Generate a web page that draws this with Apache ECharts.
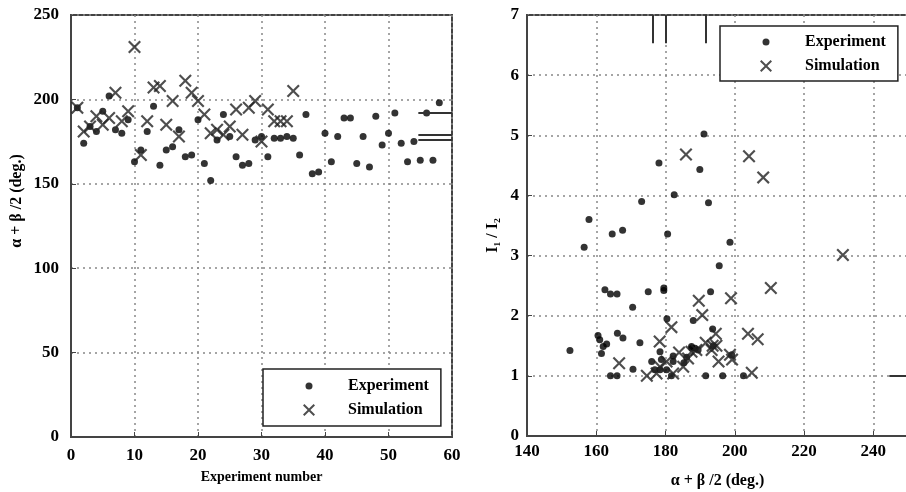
<!DOCTYPE html>
<html>
<head>
<meta charset="utf-8">
<script src="https://cdn.jsdelivr.net/npm/echarts@6.0.0/dist/echarts.min.js"></script>
<style>
  html, body { margin: 0; background: #fff; }
  #chart { width: 906px; height: 492px; }
</style>
</head>
<body>
<div id="chart"></div>
<script>
// left panel: angle per experiment
const expNo = [1,2,3,4,5,6,7,8,9,10,11,12,13,14,15,16,17,18,19,20,21,22,23,24,25,26,27,28,29,30,
  31,32,33,34,35,36,37,38,39,40,41,42,43,44,45,46,47,48,49,50,51,52,53,54,55,56,57,58]
const expAngle = [195,174,184,181,193,202,182,180,188,163,170,181,196,161,170,172,182,166,167,188,
  162,152,176,191,178,166,161,162,176,178,166,177,177,178,177,167,191,156,157,180,
  163,178,189,189,162,178,160,190,173,180,192,174,163,175,164,192,164,198]
const simNo = [1,2,3,4,5,6,7,8,9,10,11,12,13,14,15,16,17,18,19,20,21,22,23,24,25,26,27,28,29,30,31,32,33,34,35]
const simAngle = [195,181,184,190,185,189,204,187,193,231,167,187,207,208,185,199,178,211,204,199,
  191,180,182,179,184,194,179,195,199,175,194,187,187,187,205]

// right panel: current ratio vs angle
const expAngleR = [191.1,178.1,189.9,182.5,173.1,192.4,157.9,164.6,167.6,180.6,156.5,198.6,195.5,162.5,
  164.1,166.0,170.5,175.0,179.5,179.5,193.0,180.4,188.0,193.6,160.5,161.0,162.0,161.5,163.0,166.1,
  167.7,172.6,152.4,170.6,164.1,166.0,178.4,178.8,176.0,176.9,178.4,180.3,182.2,182.2,181.7,185.3,
  186.1,187.5,188.5,189.4,193.8,199.1,191.6,196.5,202.5,187.6]
const expRatio = [5.02,4.54,4.43,4.01,3.90,3.88,3.60,3.36,3.42,3.36,3.14,3.22,2.83,2.43,2.36,2.36,
  2.14,2.40,2.46,2.42,2.40,1.95,1.92,1.78,1.67,1.60,1.49,1.37,1.53,1.71,1.63,1.55,1.42,1.11,1.00,
  1.00,1.40,1.27,1.24,1.10,1.10,1.10,1.33,1.24,1.00,1.22,1.31,1.49,1.46,1.43,1.50,1.35,1.00,1.00,
  1.00,1.46]
const simAngleR = [185.9,204.1,208.2,231.2,210.4,198.9,189.6,190.6,181.7,178.3,194.5,191.6,193.6,203.8,
  206.6,166.6,174.6,177.4,180.3,178.4,182.2,183.9,185.1,186.5,187.5,188.9,195.3,198.6,199.2,204.9,
  194.7,193.3]
const simRatio = [4.68,4.65,4.30,3.01,2.46,2.29,2.25,2.01,1.81,1.57,1.70,1.55,1.50,1.70,1.61,1.21,
  1.00,1.04,1.24,1.15,1.04,1.39,1.15,1.29,1.40,1.43,1.24,1.35,1.27,1.05,1.50,1.43]

// short reference marks drawn at the plot edges
const leftMarkY = [192, 179.3, 176]
const leftMarkX = [54.7, 60]
const topMarkX = [176.4, 180, 191.6]
const topMarkY = [6.53, 7]
const rightMarkY = [1]
const rightMarkX = [244.6, 250]

const zip = (a, b) => a.map((v, i) => [v, b[i]])

const FONT = 'Liberation Serif'
const INK = '#000'
const CROSS = '#222'
const FRAME = '#444'
const X_PATH = 'path://M1,2.4L2.4,1L7,5.6L11.6,1L13,2.4L8.4,7L13,11.6L11.6,13L7,8.4L2.4,13L1,11.6L5.6,7Z'
// legend icons padded into a wide box so the text sits further right
const DOT_ICON = 'path://M0,0M41,14M3.5,7a3.5,3.5 0 1,0 7,0a3.5,3.5 0 1,0 -7,0Z'
const X_ICON = 'path://M0,0M41,14M1,2.4L2.4,1L7,5.6L11.6,1L13,2.4L8.4,7L13,11.6L11.6,13L7,8.4L2.4,13L1,11.6L5.6,7Z'

const tickLabel = { color: INK, fontFamily: FONT, fontWeight: 'bold', fontSize: 17 }
const nameStyle = { color: INK, fontFamily: FONT, fontWeight: 'bold', fontSize: 14 }
const greekName = Object.assign({}, nameStyle, { fontSize: 16 })
const gridDots = { show: true, lineStyle: { color: '#888', type: [2, 4], width: 1.5 } }

function valueAxis(extra) {
  return Object.assign({
    type: 'value',
    axisLine: { show: true, onZero: false, lineStyle: { color: FRAME, width: 2 } },
    axisTick: { show: true, inside: true, length: 5, lineStyle: { color: FRAME } },
    splitLine: gridDots,
    nameLocation: 'middle',
    nameTextStyle: nameStyle,
  }, extra)
}

function edgeMarks(pairs) {
  return {
    silent: true,
    symbol: 'none',
    animation: false,
    label: { show: false },
    lineStyle: { color: '#333', width: 2, type: 'solid' },
    data: pairs,
  }
}

const legendBase = {
  orient: 'vertical',
  itemWidth: 41,
  itemHeight: 14,
  selectedMode: false,
  backgroundColor: '#fff',
  borderColor: '#222',
  borderWidth: 1.5,
  borderRadius: 0,
  textStyle: { color: INK, fontFamily: FONT, fontWeight: 'bold', fontSize: 16 },
  data: [{ name: 'Experiment', icon: DOT_ICON }, { name: 'Simulation', icon: X_ICON }],
}

const option = {
  backgroundColor: '#fff',
  animation: false,
  grid: [
    { left: 71, top: 15, width: 381, height: 422, show: true, borderColor: FRAME, borderWidth: 2, outerBoundsMode: 'none' },
    { left: 527, top: 15, width: 381, height: 421, show: true, borderColor: FRAME, borderWidth: 2, outerBoundsMode: 'none' },
  ],
  xAxis: [
    valueAxis({ gridIndex: 0, min: 0, max: 60, interval: 10, name: 'Experiment number', nameGap: 33,
      axisLabel: Object.assign({ margin: 10 }, tickLabel) }),
    valueAxis({ gridIndex: 1, min: 140, max: 250, interval: 20, name: 'α + β /2 (deg.)', nameGap: 37,
      nameTextStyle: greekName,
      axisLabel: Object.assign({ margin: 7, showMaxLabel: false }, tickLabel) }),
  ],
  yAxis: [
    valueAxis({ gridIndex: 0, min: 0, max: 250, interval: 50, name: 'α + β /2 (deg.)', nameGap: 46,
      nameTextStyle: Object.assign({ padding: [0, 0, 0, 50] }, greekName),
      axisLabel: Object.assign({ margin: 12 }, tickLabel) }),
    valueAxis({ gridIndex: 1, min: 0, max: 7, interval: 1, name: 'I₁ / I₂', nameGap: 26,
      nameTextStyle: Object.assign({ padding: [0, 20, 0, 0] }, nameStyle, { fontSize: 16 }),
      axisLabel: Object.assign({ margin: 8 }, tickLabel) }),
  ],
  legend: [
    Object.assign({ left: 263, top: 369, padding: [9, 12, 8, 39] }, legendBase),
    Object.assign({ left: 720, top: 26, padding: [8, 12, 7, 39] }, legendBase),
  ],
  series: [
    {
      name: 'Experiment', type: 'scatter', xAxisIndex: 0, yAxisIndex: 0,
      symbol: 'circle', symbolSize: 7, itemStyle: { color: INK },
      data: zip(expNo, expAngle),
      markLine: edgeMarks(leftMarkY.map(y => [{ coord: [leftMarkX[0], y] }, { coord: [leftMarkX[1], y] }])),
    },
    {
      name: 'Simulation', type: 'scatter', xAxisIndex: 0, yAxisIndex: 0,
      symbol: X_PATH, symbolSize: 13, itemStyle: { color: CROSS },
      data: zip(simNo, simAngle),
    },
    {
      name: 'Experiment', type: 'scatter', xAxisIndex: 1, yAxisIndex: 1,
      symbol: 'circle', symbolSize: 7, itemStyle: { color: INK },
      data: zip(expAngleR, expRatio),
      markLine: edgeMarks(
        topMarkX.map(x => [{ coord: [x, topMarkY[0]] }, { coord: [x, topMarkY[1]] }])
          .concat(rightMarkY.map(y => [{ coord: [rightMarkX[0], y] }, { coord: [rightMarkX[1], y] }]))),
    },
    {
      name: 'Simulation', type: 'scatter', xAxisIndex: 1, yAxisIndex: 1,
      symbol: X_PATH, symbolSize: 13, itemStyle: { color: CROSS },
      data: zip(simAngleR, simRatio),
    },
  ],
}

const chart = echarts.init(document.getElementById('chart'), null, { renderer: 'canvas' })
chart.setOption(option)
</script>
</body>
</html>
